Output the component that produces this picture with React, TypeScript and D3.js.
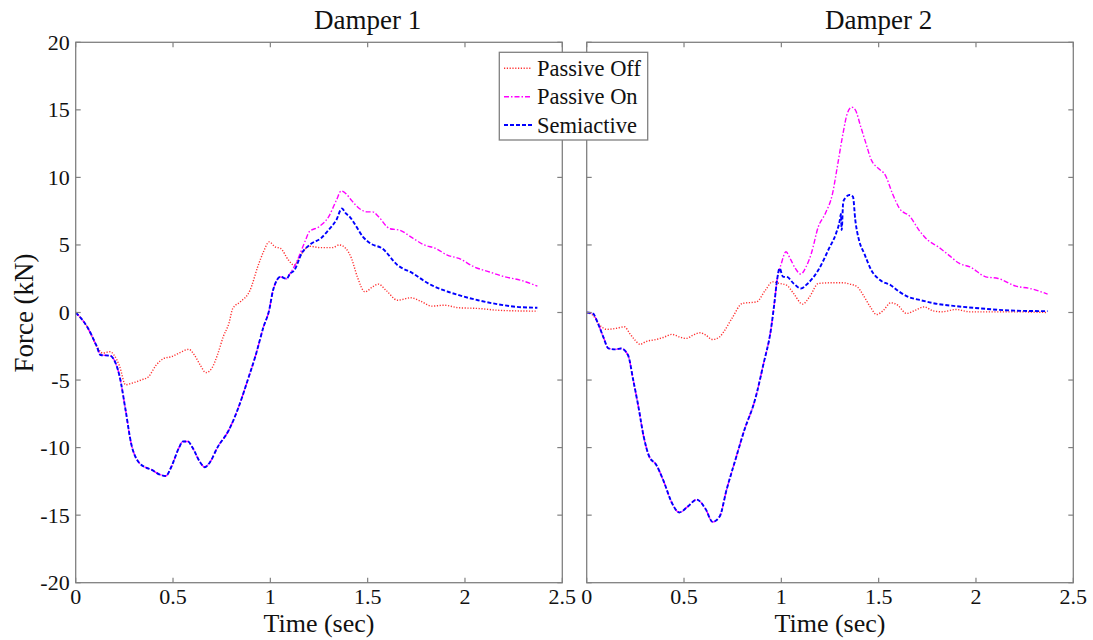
import React from "react";
import * as d3 from "d3";

// ---------- data ----------
const panelTitles = ["Damper 1", "Damper 2"];
const xTicks = [0, 0.5, 1, 1.5, 2, 2.5];
const yTicks = [-20, -15, -10, -5, 0, 5, 10, 15, 20];
const seriesNames = ["Passive Off", "Passive On", "Semiactive"];

// Damper 1
const d1PassiveOff: [number, number][] = [
  [0, 0], [0.059, -1.06], [0.108, -2.5], [0.138, -3.0], [0.177, -2.9], [0.197, -3.15],
  [0.226, -4.0], [0.256, -5.35], [0.285, -5.25], [0.335, -5.0], [0.374, -4.75],
  [0.413, -3.9], [0.453, -3.4], [0.492, -3.27], [0.531, -3.0], [0.581, -2.73],
  [0.61, -3.15], [0.64, -3.9], [0.669, -4.45], [0.699, -4.13], [0.728, -3.15],
  [0.758, -1.8], [0.787, -0.81], [0.807, 0.3], [0.846, 0.79], [0.896, 1.65],
  [0.935, 3.38], [0.965, 4.5], [0.994, 5.23], [1.024, 4.86], [1.053, 4.74],
  [1.093, 3.88], [1.122, 3.5], [1.161, 4.37], [1.2, 4.9], [1.26, 4.8], [1.319, 4.8],
  [1.354, 5.0], [1.388, 4.74], [1.417, 4.0], [1.447, 2.64], [1.486, 1.53],
  [1.526, 1.9], [1.555, 2.1], [1.594, 1.65], [1.654, 0.91], [1.722, 1.09],
  [1.772, 0.84], [1.83, 0.47], [1.89, 0.54], [1.969, 0.35], [2.067, 0.3],
  [2.165, 0.17], [2.264, 0.12], [2.372, 0.1],
];
const d1Shared: [number, number][] = [
  [0, 0], [0.059, -1.06], [0.108, -2.5], [0.128, -3.15], [0.177, -3.2], [0.197, -3.5],
  [0.226, -4.75], [0.256, -7.2], [0.285, -9.7], [0.315, -10.9], [0.364, -11.5],
  [0.384, -11.6], [0.433, -12.0], [0.463, -12.1], [0.492, -11.4], [0.531, -10.0],
  [0.551, -9.55], [0.577, -9.55], [0.6, -10.0], [0.64, -11.1], [0.663, -11.45],
  [0.689, -11.1], [0.728, -10.0], [0.787, -8.7], [0.837, -7.0], [0.886, -4.9],
  [0.925, -3.15], [0.965, -1.06], [0.994, 0.17], [1.014, 1.65], [1.053, 2.64],
  [1.083, 2.5], [1.102, 2.9],
];
const d1PassiveOnTail: [number, number][] = [
  [1.13, 3.6], [1.181, 5.36], [1.2, 5.98], [1.25, 6.35], [1.3, 7.1], [1.339, 8.3],
  [1.364, 9.0], [1.388, 8.8], [1.417, 8.3], [1.457, 7.7], [1.496, 7.45], [1.526, 7.45],
  [1.555, 7.1], [1.614, 6.2], [1.663, 6.1], [1.732, 5.5], [1.791, 5.0], [1.85, 4.74],
  [1.909, 4.25], [1.969, 4.0], [2.047, 3.38], [2.126, 3.0], [2.205, 2.64],
  [2.283, 2.4], [2.372, 1.95],
];
const d1SemiTail: [number, number][] = [
  [1.122, 3.1], [1.161, 4.37], [1.211, 5.1], [1.26, 5.5], [1.299, 6.1], [1.339, 6.85],
  [1.368, 7.7], [1.388, 7.33], [1.407, 7.1], [1.427, 6.7], [1.476, 5.6], [1.516, 5.1],
  [1.575, 4.74], [1.654, 3.5], [1.732, 2.9], [1.811, 2.15], [1.89, 1.65],
  [1.969, 1.28], [2.067, 0.91], [2.165, 0.62], [2.264, 0.42], [2.372, 0.35],
];

// Damper 2
const d2PassiveOff: [number, number][] = [
  [0, 0], [0.031, -0.2], [0.067, -0.93], [0.103, -1.25], [0.149, -1.18], [0.194, -1.06],
  [0.221, -1.55], [0.248, -2.04], [0.275, -2.36], [0.303, -2.16], [0.357, -2.0],
  [0.393, -1.85], [0.438, -1.62], [0.475, -1.8], [0.511, -1.92], [0.547, -1.67],
  [0.583, -1.5], [0.611, -1.67], [0.647, -2.0], [0.683, -1.8], [0.71, -1.3],
  [0.746, -0.44], [0.8, 0.67], [0.873, 0.79], [0.918, 1.65], [0.955, 2.27],
  [0.991, 2.15], [1.027, 2.02], [1.063, 1.41], [1.109, 0.62], [1.145, 1.16],
  [1.19, 2.15], [1.263, 2.2], [1.317, 2.2], [1.353, 2.1], [1.39, 1.9], [1.426, 1.16],
  [1.462, 0.3], [1.489, -0.15], [1.525, 0.17], [1.562, 0.72], [1.598, 0.54],
  [1.643, -0.07], [1.688, 0.17], [1.734, 0.42], [1.779, 0.12], [1.824, 0.05],
  [1.897, 0.22], [1.969, 0.05], [2.078, 0.05], [2.205, 0.05], [2.368, 0.0],
];
const d2Shared: [number, number][] = [
  [0, 0], [0.031, -0.07], [0.058, -0.81], [0.085, -1.8], [0.112, -2.66], [0.149, -2.73],
  [0.176, -2.66], [0.212, -3.15], [0.239, -5.0], [0.266, -7.0], [0.293, -9.2],
  [0.321, -10.65], [0.357, -11.27], [0.393, -12.4], [0.438, -14.1], [0.475, -14.8],
  [0.52, -14.35], [0.565, -13.85], [0.611, -14.55], [0.647, -15.5], [0.683, -15.1],
  [0.719, -13.1], [0.764, -10.9], [0.81, -8.7], [0.864, -6.5], [0.909, -3.76],
  [0.946, -1.3], [0.964, 0.66], [0.978, 2.4],
];
const d2PassiveOnTail: [number, number][] = [
  [1.0, 3.63], [1.024, 4.5], [1.045, 4.0], [1.072, 3.26], [1.1, 2.84], [1.127, 3.38],
  [1.154, 4.37], [1.19, 6.35], [1.226, 7.33], [1.263, 8.8], [1.29, 11.0],
  [1.317, 13.26], [1.339, 14.74], [1.362, 15.2], [1.38, 15.0], [1.408, 13.75],
  [1.435, 12.5], [1.462, 11.3], [1.498, 10.67], [1.534, 10.17], [1.571, 8.8],
  [1.607, 7.7], [1.661, 7.1], [1.707, 6.1], [1.752, 5.36], [1.806, 4.86],
  [1.86, 4.25], [1.915, 3.63], [1.969, 3.38], [2.05, 2.64], [2.114, 2.52],
  [2.205, 1.95], [2.277, 1.78], [2.368, 1.36],
];
const d2SemiTail: [number, number][] = [
  [0.991, 3.26], [1.009, 2.64], [1.027, 2.64], [1.063, 2.15], [1.1, 1.78],
  [1.136, 2.15], [1.19, 3.14], [1.245, 4.74], [1.281, 5.85], [1.3, 6.8],
  [1.306, 7.3], [1.31, 6.1], [1.318, 8.2], [1.33, 8.5], [1.35, 8.7], [1.368, 8.57],
  [1.38, 6.84], [1.399, 5.36], [1.426, 4.37], [1.462, 3.14], [1.507, 2.4],
  [1.562, 2.02], [1.607, 1.53], [1.652, 1.16], [1.716, 0.91], [1.788, 0.67],
  [1.897, 0.47], [2.024, 0.3], [2.15, 0.17], [2.24, 0.12], [2.368, 0.1],
];

// ---------- layout / style ----------
const W = 1093;
const H = 640;
const panels = [
  { left: 75.7, right: 562.3 },
  { left: 586.7, right: 1073.3 },
];
const TOP = 42.3;
const BOTTOM = 582.7;
const FONT = "'Liberation Serif', 'Times New Roman', serif";
const AXIS_COLOR = "#808080";
const TICK = 5;

const styles = [
  { color: "#ff3030", dash: "1.2 1.6", width: 1.4 },
  { color: "#ff00ff", dash: "5 2 1.5 2", width: 1.4 },
  { color: "#0000ff", dash: "4 2", width: 1.9 },
];

const panelData = [
  [d1PassiveOff, [...d1Shared, ...d1PassiveOnTail], [...d1Shared, ...d1SemiTail]],
  [d2PassiveOff, [...d2Shared, ...d2PassiveOnTail], [...d2Shared, ...d2SemiTail]],
];

const y = d3.scaleLinear().domain([-20, 20]).range([BOTTOM, TOP]);

function Panel({ idx }: { idx: number }) {
  const p = panels[idx];
  const x = d3.scaleLinear().domain([0, 2.5]).range([p.left, p.right]);
  const line = d3
    .line<[number, number]>()
    .x((d) => x(d[0]))
    .y((d) => y(d[1]))
    .curve(d3.curveMonotoneX);
  const cx = (p.left + p.right) / 2;
  return (
    <g>
      {panelData[idx].map((data, i) => (
        <path
          key={i}
          d={line(data) || ""}
          fill="none"
          stroke={styles[i].color}
          strokeWidth={styles[i].width}
          strokeDasharray={styles[i].dash}
        />
      ))}
      <rect
        x={p.left}
        y={TOP}
        width={p.right - p.left}
        height={BOTTOM - TOP}
        fill="none"
        stroke={AXIS_COLOR}
        strokeWidth={1.3}
      />
      {xTicks.map((t) => (
        <g key={"x" + t}>
          <line x1={x(t)} x2={x(t)} y1={BOTTOM} y2={BOTTOM - TICK} stroke={AXIS_COLOR} strokeWidth={1.2} />
          <line x1={x(t)} x2={x(t)} y1={TOP} y2={TOP + TICK} stroke={AXIS_COLOR} strokeWidth={1.2} />
          <text x={x(t)} y={603.5} fontFamily={FONT} fontSize={22} textAnchor="middle" fill="#111">
            {String(t)}
          </text>
        </g>
      ))}
      {yTicks.map((v) => (
        <g key={"y" + v}>
          <line x1={p.left} x2={p.left + TICK} y1={y(v)} y2={y(v)} stroke={AXIS_COLOR} strokeWidth={1.2} />
          <line x1={p.right} x2={p.right - TICK} y1={y(v)} y2={y(v)} stroke={AXIS_COLOR} strokeWidth={1.2} />
          {idx === 0 && (
            <text x={p.left - 6} y={y(v) + 7.5} fontFamily={FONT} fontSize={22} textAnchor="end" fill="#111">
              {String(v)}
            </text>
          )}
        </g>
      ))}
      <text x={x(1.5)} y={29} fontFamily={FONT} fontSize={27} textAnchor="middle" fill="#111">
        {panelTitles[idx]}
      </text>
      <text x={cx} y={631.5} fontFamily={FONT} fontSize={26} textAnchor="middle" fill="#111">
        Time (sec)
      </text>
    </g>
  );
}

function Legend() {
  const lx = 499.3;
  const ly = 52.3;
  const lw = 148.4;
  const lh = 87.7;
  const rows = [68.3, 96.7, 125];
  return (
    <g>
      <rect x={lx} y={ly} width={lw} height={lh} fill="#fff" stroke={AXIS_COLOR} strokeWidth={1.3} />
      {seriesNames.map((name, i) => (
        <g key={name}>
          <line
            x1={504}
            x2={532}
            y1={rows[i]}
            y2={rows[i]}
            stroke={styles[i].color}
            strokeWidth={styles[i].width}
            strokeDasharray={styles[i].dash}
          />
          <text x={537} y={rows[i] + 7.5} fontFamily={FONT} fontSize={22.5} fill="#111">
            {name}
          </text>
        </g>
      ))}
    </g>
  );
}

export default function App() {
  return (
    <svg
      width={W}
      height={H}
      viewBox={`0 0 ${W} ${H}`}
      style={{ position: "absolute", left: 0, top: 0, background: "#fff" }}
    >
      <rect x={0} y={0} width={W} height={H} fill="#fff" />
      <Panel idx={0} />
      <Panel idx={1} />
      <Legend />
      <text
        transform={`translate(33, 313) rotate(-90)`}
        fontFamily={FONT}
        fontSize={27}
        textAnchor="middle"
        fill="#111"
      >
        Force (kN)
      </text>
    </svg>
  );
}
